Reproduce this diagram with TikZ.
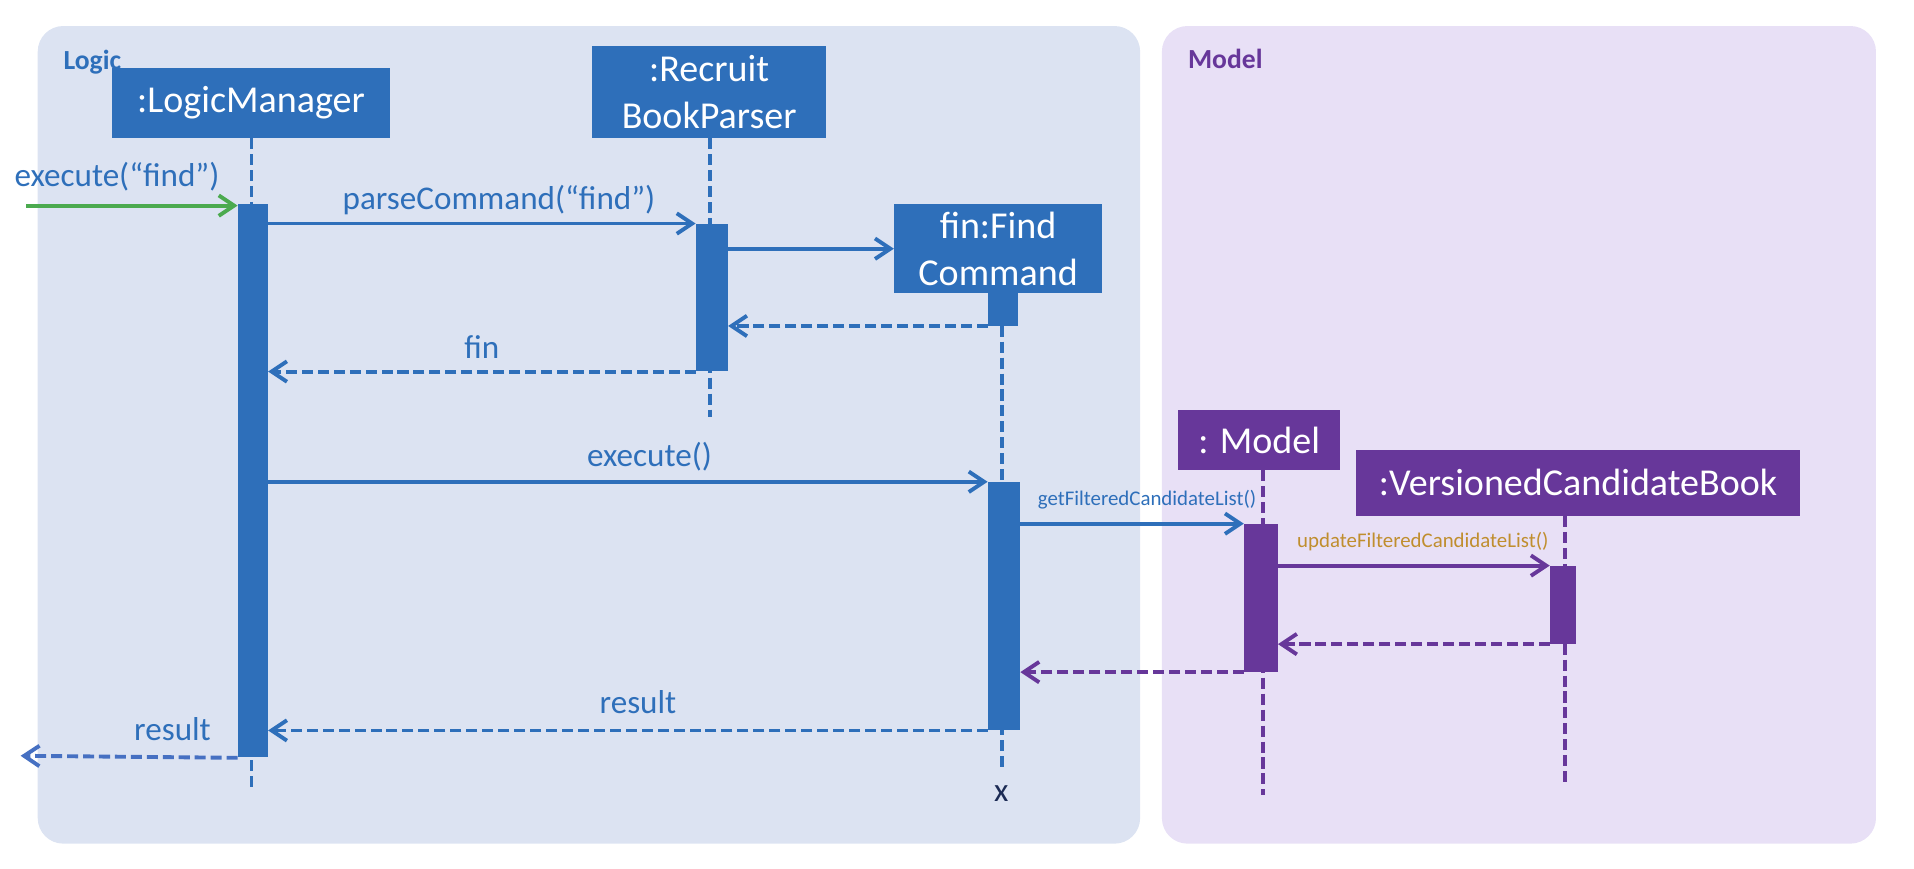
\documentclass[tikz,border=0pt]{standalone}
\usepackage{fontspec}
\setmainfont{Carlito}
\usetikzlibrary{arrows.meta, positioning, calc}

\definecolor{logicblue}{HTML}{2E6FBA}
\definecolor{modelpurple}{HTML}{67379A}
\definecolor{logicbg}{HTML}{DCE3F2}
\definecolor{modelbg}{HTML}{E8E0F6}
\definecolor{entrygreen}{HTML}{4BAA4F}
\definecolor{updategold}{HTML}{C08E2E}
\definecolor{crossnavy}{HTML}{1C2B55}
\definecolor{resultblue}{HTML}{4670C2}

\newcommand{\objfont}{\fontsize{18.6}{22.8}\selectfont}
\newcommand{\msgfont}{\fontsize{16.2}{19}\selectfont}
\newcommand{\smallmsgfont}{\fontsize{10.2}{12}\selectfont}
\newcommand{\panelfont}{\fontsize{13.5}{15}\selectfont\bfseries}

\tikzstyle{every object} = []
\tikzstyle{object} = [rectangle, inner sep=0pt, align=center, text=white, font=\objfont, every object]
\tikzstyle{activation} = [rectangle, inner sep=0pt, every object]
\tikzstyle{lifeline} = [line width=1.7pt, dash pattern=on 5.4pt off 2.4pt]
\tikzstyle{call} = [-{Straight Barb[length=7.5pt,width=10pt]}, line width=1.9pt]
\tikzstyle{reply} = [call, dash pattern=on 5.4pt off 2.4pt]
\tikzstyle{msg} = [anchor=base, inner sep=0pt, font=\msgfont, text=logicblue]
\tikzstyle{small msg} = [msg, font=\smallmsgfont]
\tikzstyle{panel} = [rectangle, rounded corners=12.5pt, inner sep=0pt]
\tikzset{boxsize/.style 2 args={minimum width=#1*0.6pt, minimum height=#2*0.6pt}}

\begin{document}
\begin{tikzpicture}[x=0.6pt, y=-0.6pt]
  \useasboundingbox (0,0) rectangle (1560,707.5);
  %Panels
  \node[panel, fill=logicbg, boxsize={898.5}{666.4}] (logic) at (480,354.4) {};
  \node[panel, fill=modelbg, boxsize={582}{666.4}] (modelpanel) at (1238,354.4) {};
  \node[font=\panelfont, text=logicblue, anchor=base west, inner sep=0pt] (logiclabel) at (51.5,57) {Logic};
  \node[font=\panelfont, text=modelpurple, anchor=base west, inner sep=0pt] (modellabel) at (968,55.7) {Model};

  %Objects
  \node[object, fill=logicblue, boxsize={226.6}{57.1}] (lm) at (204.6,83.7) {:LogicManager};
  \node[object, fill=logicblue, boxsize={190.4}{75}] (rbp) at (578,75) {:Recruit\\BookParser};
  \node[object, fill=logicblue, boxsize={169.3}{72.8}] (fin) at (813.5,202.7) {fin:Find\\Command};
  \node[object, fill=modelpurple, boxsize={131.8}{48.9}] (model) at (1026.3,358.6) {: Model};
  \node[object, fill=modelpurple, boxsize={361.8}{53.5}] (vcb) at (1286.2,393.5) {:VersionedCandidateBook};

  %Lifelines
  \coordinate (lmend) at (205.1,643.4);
  \coordinate (rbpend) at (578.7,340);
  \coordinate (finend) at (816.7,626.8);
  \coordinate (modelend) at (1029.2,648);
  \coordinate (vcbend) at (1275.7,638.5);
  \draw[lifeline, logicblue] (lm.south -| lmend) -- (lmend);
  \draw[lifeline, logicblue] (rbp.south -| rbpend) -- (rbpend);
  \draw[lifeline, logicblue] (fin.south -| finend) -- (finend);
  \draw[lifeline, modelpurple] (model.south -| modelend) -- (modelend);
  \draw[lifeline, modelpurple] (vcb.south -| vcbend) -- (vcbend);

  %Activations
  \node[activation, fill=logicblue, boxsize={24.2}{451}] (lmact) at (206.1,391.8) {};
  \node[activation, fill=logicblue, boxsize={25.8}{120}] (rbpact) at (580.2,242.5) {};
  \node[activation, fill=logicblue, boxsize={24.2}{26.3}] (finact1) at (817.5,252.2) {};
  \node[activation, fill=logicblue, boxsize={26}{202}] (finact2) at (818.3,494) {};
  \node[activation, fill=modelpurple, boxsize={27.2}{120.3}] (modelact) at (1027.7,487.3) {};
  \node[activation, fill=modelpurple, boxsize={21.1}{63.3}] (vcbact) at (1274,493) {};
  \node[font=\msgfont, text=crossnavy, inner sep=0pt] (finx) at (816,647.2) {x};

  %Messages
  \coordinate (entry) at (21.2,167.6);
  \coordinate (exit) at (16.8,616);
  \draw[call, entrygreen] (entry) -- (entry -| lmact.west) node[msg, pos=0.43, yshift=9.6pt] {execute(“find”)};
  \draw[call, logicblue] (lmact.east |- rbpact.north) -- (rbpact.north west) node[msg, pos=0.54, yshift=7pt] {parseCommand(“find”)};
  \draw[call, logicblue] (rbpact.east |- fin.west) -- (fin.west);
  \draw[reply, logicblue] (finact1.south west) -- (rbpact.east |- finact1.south);
  \draw[reply, logicblue] (rbpact.south west) -- (lmact.east |- rbpact.south) node[msg, midway, yshift=6.6pt] {fin};
  \draw[call, logicblue] (lmact.east |- finact2.north) -- (finact2.north west) node[msg, pos=0.53, yshift=7.6pt] {execute()};
  \draw[call, logicblue] (finact2.east |- modelact.north) -- (modelact.north west) node[small msg, pos=0.567, yshift=9pt] {getFilteredCandidateList()};
  \draw[call, modelpurple] (modelact.east |- vcbact.north) -- (vcbact.north west) node[small msg, text=updategold, pos=0.533, yshift=9pt] {updateFilteredCandidateList()};
  \draw[reply, modelpurple] (vcbact.south west) -- (modelact.east |- vcbact.south);
  \draw[reply, modelpurple] (modelact.south west) -- (finact2.east |- modelact.south);
  \draw[reply, logicblue] (finact2.south west) -- (lmact.east |- finact2.south) node[msg, pos=0.486, yshift=8.2pt] {result};
  \draw[reply, resultblue] (lmact.south west) -- (exit) node[msg, pos=0.30, yshift=8pt] {result};
\end{tikzpicture}
\end{document}
